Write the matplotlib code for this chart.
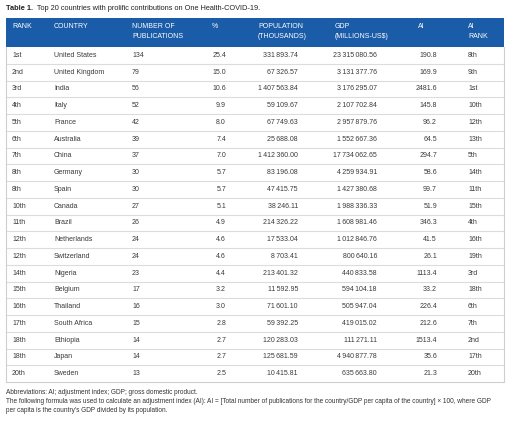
import matplotlib
matplotlib.use("Agg")
import matplotlib.pyplot as plt
from matplotlib.patches import Rectangle

plt.rcParams['font.family'] = ['Liberation Sans', 'DejaVu Sans']

# Tabela: top 20 paises
rank = ["1st", "2nd", "3rd", "4th", "5th", "6th", "7th", "8th", "8th", "10th",
        "11th", "12th", "12th", "14th", "15th", "16th", "17th", "18th", "18th", "20th"]
country = ["United States", "United Kingdom", "India", "Italy", "France", "Australia",
           "China", "Germany", "Spain", "Canada", "Brazil", "Netherlands", "Switzerland",
           "Nigeria", "Belgium", "Thailand", "South Africa", "Ethiopia", "Japan", "Sweden"]
n_pub = [134, 79, 56, 52, 42, 39, 37, 30, 30, 27, 26, 24, 24, 23, 17, 16, 15, 14, 14, 13]
pct = [25.4, 15.0, 10.6, 9.9, 8.0, 7.4, 7.0, 5.7, 5.7, 5.1, 4.9, 4.6, 4.6, 4.4, 3.2,
       3.0, 2.8, 2.7, 2.7, 2.5]
population = [331893.74, 67326.57, 1407563.84, 59109.67, 67749.63, 25688.08, 1412360.00,
              83196.08, 47415.75, 38246.11, 214326.22, 17533.04, 8703.41, 213401.32,
              11592.95, 71601.10, 59392.25, 120283.03, 125681.59, 10415.81]
gdp = [23315080.56, 3131377.76, 3176295.07, 2107702.84, 2957879.76, 1552667.36,
       17734062.65, 4259934.91, 1427380.68, 1988336.33, 1608981.46, 1012846.76,
       800640.16, 440833.58, 594104.18, 505947.04, 419015.02, 111271.11, 4940877.78,
       635663.80]
ai = [190.8, 169.9, 2481.6, 145.8, 96.2, 64.5, 294.7, 58.6, 99.7, 51.9, 346.3, 41.5,
      26.1, 1113.4, 33.2, 226.4, 212.6, 1513.4, 35.6, 21.3]
ai_rank = ["8th", "9th", "1st", "10th", "12th", "13th", "5th", "14th", "11th", "15th",
           "4th", "16th", "19th", "3rd", "18th", "6th", "7th", "2nd", "17th", "20th"]

headers = ["RANK", "COUNTRY", "NUMBER OF\nPUBLICATIONS", "%", "POPULATION\n(THOUSANDS)",
           "GDP\n(MILLIONS-US$)", "AI", "AI\nRANK"]


def milhar(v):
    # separador de milhar com espaco fino
    s = "{0:,.2f}".format(v)
    return s.replace(",", "\u2009")


W, H = 510, 421
fig = plt.figure(figsize=(W / 100, H / 100), dpi=100)
ax = fig.add_axes([0, 0, 1, 1])
ax.set_xlim(0, W)
ax.set_ylim(H, 0)
ax.axis("off")

fs = 5.0
azul = "#1b5ca8"
cinza = "#3a3a3a"

# titulo
t1 = ax.text(6, 8, "Table 1.", fontsize=5.3, fontweight="bold", va="center", color="#222222")
ax.annotate("  Top 20 countries with prolific contributions on One Health-COVID-19.",
            xy=(1, 0.5), xycoords=t1, va="center", fontsize=5.3, color="#222222")

# cabecalho
x0, x1 = 6, 504
yh0, yh1 = 18, 47
ax.add_patch(Rectangle((x0, yh0), x1 - x0, yh1 - yh0, color=azul, lw=0))
hx = [12, 54, 132, 212, 258, 335, 418, 468]
for x, h in zip(hx, headers):
    ax.text(x, 23, h, color="white", fontsize=fs, va="top", ha="left", linespacing=1.55)

# linhas
dy = (382 - yh1) / len(rank)
for i in range(len(rank)):
    yc = yh1 + dy * (i + 0.5)
    ax.text(12, yc, rank[i], fontsize=fs, va="center", color=cinza)
    ax.text(54, yc, country[i], fontsize=fs, va="center", color=cinza)
    ax.text(132, yc, str(n_pub[i]), fontsize=fs, va="center", color=cinza)
    ax.text(226, yc, "{0:.1f}".format(pct[i]), fontsize=fs, va="center", ha="right", color=cinza)
    ax.text(298, yc, milhar(population[i]), fontsize=fs, va="center", ha="right", color=cinza)
    ax.text(377, yc, milhar(gdp[i]), fontsize=fs, va="center", ha="right", color=cinza)
    ax.text(437, yc, "{0:.1f}".format(ai[i]), fontsize=fs, va="center", ha="right", color=cinza)
    ax.text(468, yc, ai_rank[i], fontsize=fs, va="center", color=cinza)
    if i < len(rank) - 1:
        yl = yh1 + dy * (i + 1)
        ax.plot([x0, x1], [yl, yl], color="#dcdcdc", lw=0.8)

# borda
ax.plot([x0, x0, x1, x1], [yh1, 382, 382, yh1], color="#cfcfcf", lw=0.8)

# notas
notas = ["Abbreviations: AI; adjustment index; GDP; gross domestic product.",
         "The following formula was used to calculate an adjustment index (AI): AI = [Total number of publications for the country/GDP per capita of the country] \u00d7 100, where GDP",
         "per capita is the country's GDP divided by its population."]
for k, n in enumerate(notas):
    ax.text(6, 392 + 9.5 * k, n, fontsize=4.7, va="center", color="#333333")

fig.savefig("out.png", dpi=100)
